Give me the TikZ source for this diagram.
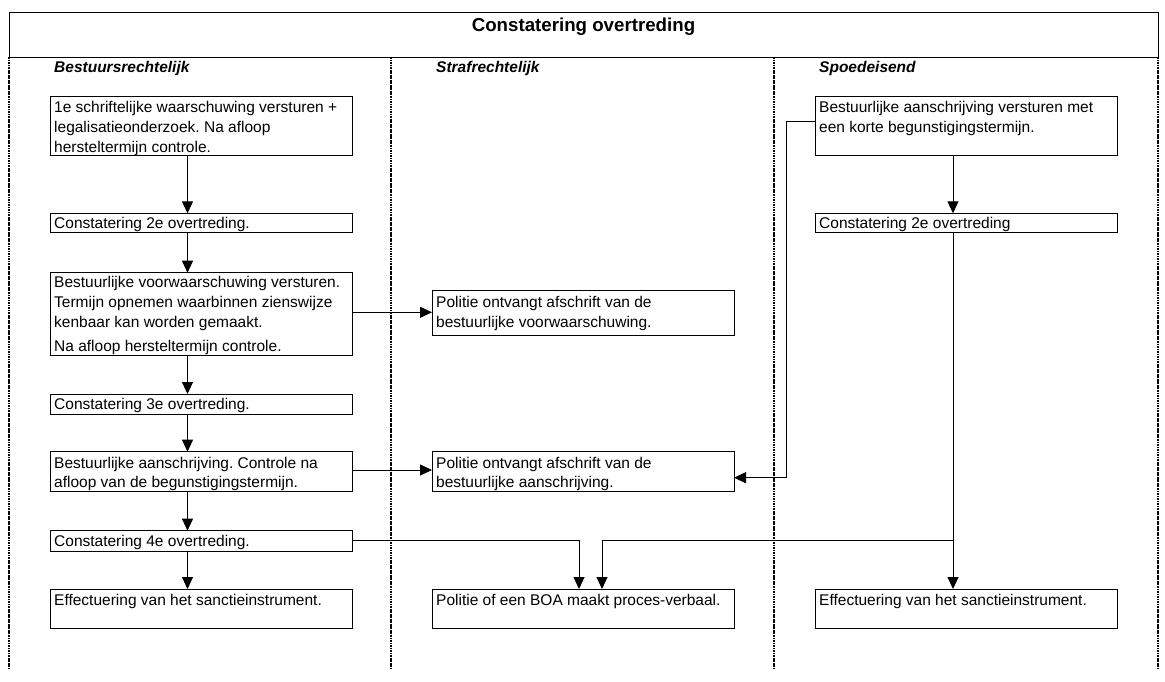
\documentclass[tikz,border=0pt]{standalone}
\usepackage{fontspec}
\setmainfont{Liberation Sans}
\usetikzlibrary{arrows.meta}
\frenchspacing
\begin{document}
\begin{tikzpicture}[x=1pt,y=-1pt,
  box/.style={draw=black, line width=0.9pt, minimum width=302pt, anchor=north west, inner sep=0pt, outer sep=0pt},
  txt/.style={anchor=base west, inner sep=0pt, font=\fontsize{15.5}{20}\selectfont\frenchspacing},
  arr/.style={draw=black, line width=0.9pt, -{Triangle[length=12pt,width=11pt]}},
  conn/.style={draw=black, line width=0.9pt},
  lane/.style={draw=black, line width=1.3pt, dash pattern=on 2.5pt off 0.8pt on 0.8pt off 0.8pt},
  head/.style={anchor=base west, inner sep=0pt, font=\fontsize{15.5}{18}\selectfont\bfseries\itshape},
]
\useasboundingbox (0,0) rectangle (1165,681);

% title
\node[draw=black, line width=0.9pt, anchor=north west, inner sep=0pt, minimum width=1149pt, minimum height=45pt] (title) at (9,11.7) {};
\node[anchor=base, inner sep=0pt, font=\fontsize{18.7}{22}\selectfont\bfseries] (titletxt) at (583.5,31.6) {Constatering overtreding};

% lanes
\coordinate (l0t) at (9,56.7);   \coordinate (l0b) at (9,667.7);
\coordinate (l1t) at (391,56.7); \coordinate (l1b) at (391,667.7);
\coordinate (l2t) at (774,56.7); \coordinate (l2b) at (774,667.7);
\coordinate (l3t) at (1158,56.7);\coordinate (l3b) at (1158,667.7);
\draw[lane] (l0t) -- (l0b);
\draw[lane] (l1t) -- (l1b);
\draw[lane] (l2t) -- (l2b);
\draw[lane] (l3t) -- (l3b);

\node[head] (h1) at (54,72.2) {Bestuursrechtelijk};
\node[head] (h2) at (436,72.2) {Strafrechtelijk};
\node[head] (h3) at (819,72.2) {Spoedeisend};

% left column
\node[box, minimum height=58.3pt] (b1) at (50,96.7) {};
\node[txt] (b1t) at (54,112.1) {\parbox[t]{300pt}{\frenchspacing 1e schriftelijke waarschuwing versturen +\\legalisatieonderzoek. Na afloop\\hersteltermijn controle.}};
\node[box, minimum height=19.4pt] (b2) at (50,213.3) {};
\node[txt] (b2t) at (54,228.4) {Constatering 2e overtreding.};
\node[box, minimum height=82.3pt] (b3) at (50,272.7) {};
\node[txt] (b3t) at (54,287.8) {\parbox[t]{300pt}{\frenchspacing Bestuurlijke voorwaarschuwing versturen.\\Termijn opnemen waarbinnen zienswijze\\kenbaar kan worden gemaakt.\\[3.5pt]Na afloop hersteltermijn controle.}};
\node[box, minimum height=20pt] (b4) at (50,394) {};
\node[txt] (b4t) at (54,409.3) {Constatering 3e overtreding.};
\node[box, minimum height=40pt] (b5) at (50,451.7) {};
\node[txt] (b5t) at (54,468.6) {\parbox[t]{300pt}{\fontsize{15.5}{19.2}\selectfont\frenchspacing Bestuurlijke aanschrijving. Controle na\\afloop van de begunstigingstermijn.}};
\node[box, minimum height=20.3pt] (b6) at (50,530.7) {};
\node[txt] (b6t) at (54,546) {Constatering 4e overtreding.};
\node[box, minimum height=39.5pt] (b7) at (50,589) {};
\node[txt] (b7t) at (54,605.3) {Effectuering van het sanctieinstrument.};

% middle column
\node[box, minimum height=44.3pt] (m1) at (432,290.7) {};
\node[txt] (m1t) at (436,307) {\parbox[t]{300pt}{Politie ontvangt afschrift van de\\bestuurlijke voorwaarschuwing.}};
\node[box, minimum height=40pt] (m2) at (432,451.7) {};
\node[txt] (m2t) at (436,468.6) {\parbox[t]{300pt}{\fontsize{15.5}{19.2}\selectfont Politie ontvangt afschrift van de\\bestuurlijke aanschrijving.}};
\node[box, minimum height=39.5pt] (m3) at (432,589) {};
\node[txt] (m3t) at (436,605.3) {Politie of een BOA maakt proces-verbaal.};

% right column
\node[box, minimum height=58.3pt] (r1) at (815,96.7) {};
\node[txt] (r1t) at (819,112.1) {\parbox[t]{300pt}{Bestuurlijke aanschrijving versturen met\\een korte begunstigingstermijn.}};
\node[box, minimum height=19.4pt] (r2) at (815,213.3) {};
\node[txt] (r2t) at (819,228.4) {Constatering 2e overtreding};
\node[box, minimum height=39.5pt] (r3) at (815,589) {};
\node[txt] (r3t) at (819,605.3) {Effectuering van het sanctieinstrument.};

% connector guides
\coordinate (ax) at (187.5,0);
\coordinate (rx) at (953,0);
\coordinate (y1) at (0,312.3);
\coordinate (y2) at (0,470);
\coordinate (ky) at (0,121.7);
\coordinate (kx) at (786,0);
\coordinate (kb) at (786,477.7);
\coordinate (jl) at (579,540.5);
\coordinate (jr) at (602,540.5);
\coordinate (jy) at (0,540.5);

% left column arrows
\draw[arr] (b1.south -| ax) -- (b2.north -| ax);
\draw[arr] (b2.south -| ax) -- (b3.north -| ax);
\draw[arr] (b3.south -| ax) -- (b4.north -| ax);
\draw[arr] (b4.south -| ax) -- (b5.north -| ax);
\draw[arr] (b5.south -| ax) -- (b6.north -| ax);
\draw[arr] (b6.south -| ax) -- (b7.north -| ax);

% cross arrows
\draw[arr] (b3.east |- y1) -- (m1.west |- y1);
\draw[arr] (b5.east |- y2) -- (m2.west |- y2);
\draw[arr] (r1.west |- ky) -- (kx |- ky) -- (kb) -- (m2.east |- kb);
\draw[arr] (b6.east |- jy) -- (jl) -- (m3.north -| jl);

% right column arrows
\draw[arr] (r1.south -| rx) -- (r2.north -| rx);
\draw[arr] (r2.south -| rx) -- (r3.north -| rx);
\draw[arr] (rx |- jy) -- (jr) -- (m3.north -| jr);
\end{tikzpicture}
\end{document}
